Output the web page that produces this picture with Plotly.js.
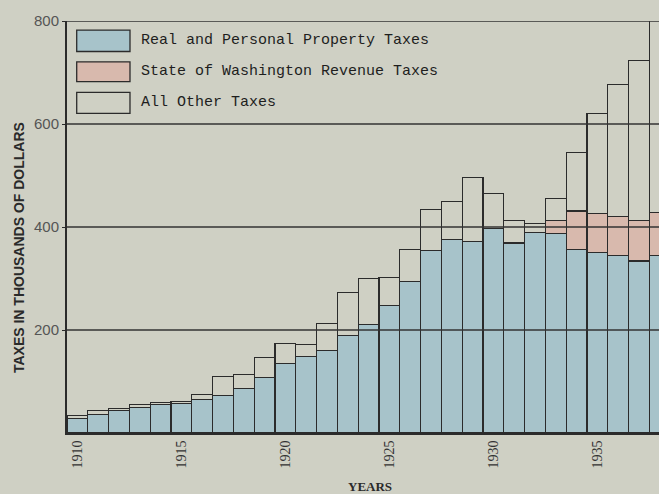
<!DOCTYPE html>
<html>
<head>
<meta charset="utf-8">
<script src="https://cdn.plot.ly/plotly-3.0.1.min.js"></script>
<style>
html,body{margin:0;padding:0;background:#cfd0c4;}
#chart{width:659px;height:494px;}
</style>
</head>
<body>
<div id="chart"></div>
<script>
// ---- data ----
const years = [1910,1911,1912,1913,1914,1915,1916,1917,1918,1919,
               1920,1921,1922,1923,1924,1925,1926,1927,1928,1929,
               1930,1931,1932,1933,1934,1935,1936,1937,1938];
const propertyTaxes = [28,36,43,50,55,57,65,73,86,107,
                       135,148,161,190,211,248,295,355,375,372,
                       397,369,390,387,356,351,345,334,345];
const stateRevenueTaxes = [0,0,0,0,0,0,0,0,0,0,
                           0,0,0,0,0,0,0,0,0,0,
                           0,0,0,25,75,75,76,78,84];
const otherTaxes = [6,7,4,5,5,5,9,36,27,39,
                    38,24,51,82,89,54,61,79,75,124,
                    68,44,16,44,113,194,256,312,431];
const seriesNames = ["Real and Personal Property Taxes",
                     "State of Washington Revenue Taxes",
                     "All Other Taxes"];
const xTickVals = [1910,1915,1920,1925,1930,1935];
const xTickText = ["1910","1915","1920","1925","1930","1935"];
const yTickVals = [200,400,600,800];
const yTickText = ["200","400","600","800"];

// ---- styling ----
const bg = "#cfd0c4";
const ink = "#2b2b2b";
const fills = ["#a7c3ca", "#d8b9ad", "rgba(0,0,0,0)"];
const seriesData = [propertyTaxes, stateRevenueTaxes, otherTaxes];

const traces = seriesData.map((vals, i) => ({
  type: "bar",
  x: years,
  y: vals,
  name: seriesNames[i],
  marker: {color: fills[i], line: {color: ink, width: 1.1}},
  hoverinfo: "x+y+name"
}));

const shapes = [];
// gridlines drawn above the bars, as in the reference
yTickVals.forEach(v => {
  shapes.push({type: "line", xref: "paper", yref: "y", x0: 0, x1: 1, y0: v, y1: v,
               line: {color: "#333", width: 1.4}, layer: "above"});
});
// legend boxes
const boxY = [[0.978, 0.926], [0.901, 0.853], [0.827, 0.776]];
const legendFills = ["#a7c3ca", "#d8b9ad", bg];
const annotations = [];
seriesNames.forEach((nm, i) => {
  shapes.push({type: "rect", xref: "paper", yref: "paper",
               x0: 0.0164, x1: 0.1064, y0: boxY[i][1], y1: boxY[i][0],
               fillcolor: legendFills[i], line: {color: ink, width: 1.3}, layer: "above"});
  annotations.push({xref: "paper", yref: "paper", x: 0.1216, y: (boxY[i][0] + boxY[i][1]) / 2,
                    xanchor: "left", yanchor: "middle", showarrow: false, text: nm,
                    font: {family: "Liberation Mono, DejaVu Sans Mono, monospace", size: 15, color: "#1e1e1e"}});
});
annotations.push({xref: "paper", yref: "paper", x: -0.081, y: 0.449, textangle: -90,
                  showarrow: false, xanchor: "center", yanchor: "middle",
                  text: "TAXES IN THOUSANDS OF DOLLARS",
                  font: {family: "Liberation Sans, Arial, sans-serif", size: 14, color: "#2a2a2a", weight: "bold"}});
annotations.push({xref: "paper", yref: "paper", x: 0.512, y: -0.131,
                  showarrow: false, xanchor: "center", yanchor: "middle",
                  text: "YEARS",
                  font: {family: "Liberation Serif, serif", size: 13, color: "#2a2a2a", weight: "bold"}});

const layout = {
  width: 659, height: 494,
  margin: {l: 67, r: 0, t: 21, b: 61, pad: 0},
  paper_bgcolor: bg, plot_bgcolor: bg,
  barmode: "stack", bargap: 0,
  showlegend: false,
  xaxis: {
    range: [1909.5, 1937.96],
    tickvals: xTickVals, ticktext: xTickText, tickangle: -90,
    showgrid: false, zeroline: false,
    showline: true, linecolor: ink, linewidth: 2,
    ticks: "",
    tickfont: {family: "Liberation Serif, serif", size: 14, color: "#333"}
  },
  yaxis: {
    range: [0, 800],
    tickvals: yTickVals, ticktext: yTickText,
    showgrid: false, zeroline: false,
    showline: true, linecolor: ink, linewidth: 2,
    ticks: "outside", ticklen: 3, tickcolor: ink,
    tickfont: {family: "Liberation Sans, Arial, sans-serif", size: 15, color: "#555"}
  },
  shapes: shapes,
  annotations: annotations
};

Plotly.newPlot("chart", traces, layout, {displayModeBar: false, staticPlot: true});
</script>
</body>
</html>
